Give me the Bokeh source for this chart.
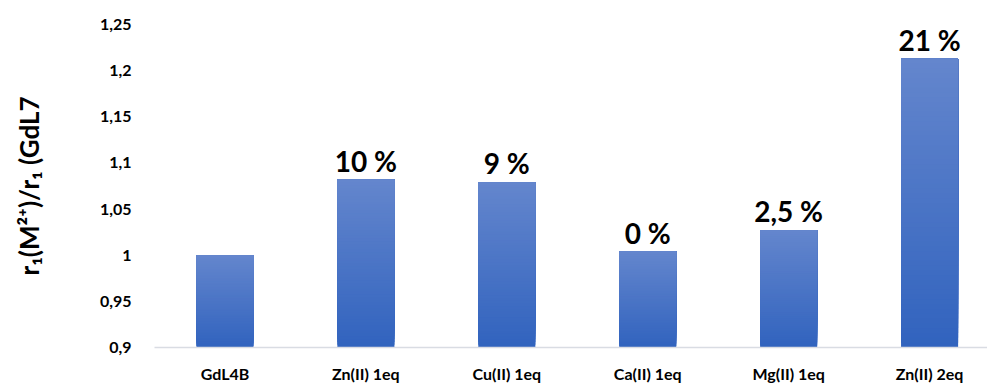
from bokeh.plotting import figure
from bokeh.models import Range1d, FixedTicker, ColumnDataSource
from bokeh.core.properties import value
from bokeh.embed import file_html
from bokeh.resources import INLINE

categories = ["GdL4B", "Zn(II) 1eq", "Cu(II) 1eq", "Ca(II) 1eq", "Mg(II) 1eq", "Zn(II) 2eq"]
ratios = [1.000, 1.082, 1.079, 1.004, 1.027, 1.213]
pct_labels = ["", "10 %", "9 %", "0 %", "2,5 %", "21 %"]
y_ticks = [0.9, 0.95, 1.0, 1.05, 1.1, 1.15, 1.2, 1.25]
y_tick_labels = ["0,9", "0,95", "1", "1,05", "1,1", "1,15", "1,2", "1,25"]
y_title = "r\u2081(M\u00b2\u207a)/r\u2081 (GdL7"

Y0, Y1 = 0.9, 1.25
TOP = (0x64, 0x86, 0xCD)
BOT = (0x31, 0x63, 0xBE)
BAR_W = 0.405
N_SLICES = 60

p = figure(frame_width=833, frame_height=323, output_backend="svg", toolbar_location=None,
           x_range=Range1d(-0.5, 5.411), y_range=Range1d(Y0, Y1),
           min_border_left=154, min_border_right=0, min_border_top=24, min_border_bottom=38)
p.outline_line_color = None
p.xgrid.grid_line_color = None
p.ygrid.grid_line_color = None

# gradient bars built from the data values (each slice runs to the bar top, drawn bottom-up)
lefts, rights, bottoms, tops, colors = [], [], [], [], []
for i, v in enumerate(ratios):
    h = v - Y0
    for k in range(N_SLICES):
        f0 = k / N_SLICES
        fm = (k + 0.5) / N_SLICES
        c = tuple(int(round(BOT[j] + (TOP[j] - BOT[j]) * fm)) for j in range(3))
        lefts.append(i - BAR_W / 2)
        rights.append(i + BAR_W / 2)
        bottoms.append(Y0 + h * f0)
        tops.append(v)
        colors.append("#%02x%02x%02x" % c)
p.quad(left=lefts, right=rights, bottom=bottoms, top=tops, fill_color=colors, line_color=None)

src = ColumnDataSource(dict(x=list(range(len(categories))), y=ratios, t=pct_labels))
p.text(x="x", y="y", text="t", source=src, text_align="center", text_baseline="bottom",
       y_offset=-2, text_font=value("Lato"), text_font_style="bold", text_font_size="28px",
       text_color="#000000")

# x axis
p.xaxis.ticker = FixedTicker(ticks=list(range(len(categories))))
p.xaxis.major_label_overrides = {i: c for i, c in enumerate(categories)}
p.xaxis.axis_line_color = "#D9DCE3"
p.xaxis.axis_line_width = 1.5
p.xaxis.major_tick_line_color = None
p.xaxis.minor_tick_line_color = None
p.xaxis.major_tick_out = 0
p.xaxis.major_tick_in = 0
p.xaxis.minor_tick_out = 0
p.xaxis.major_label_standoff = 16
p.xaxis.major_label_text_font = "Lato"
p.xaxis.major_label_text_font_style = "bold"
p.xaxis.major_label_text_font_size = "16px"
p.xaxis.major_label_text_color = "#000000"

# y axis
p.yaxis.ticker = FixedTicker(ticks=y_ticks)
p.yaxis.major_label_overrides = {t: l for t, l in zip(y_ticks, y_tick_labels)}
p.yaxis.axis_line_color = None
p.yaxis.major_tick_line_color = None
p.yaxis.minor_tick_line_color = None
p.yaxis.major_tick_out = 0
p.yaxis.major_tick_in = 0
p.yaxis.minor_tick_out = 0
p.yaxis.major_label_standoff = 23
p.yaxis.major_label_text_font = "Lato"
p.yaxis.major_label_text_font_style = "bold"
p.yaxis.major_label_text_font_size = "16px"
p.yaxis.major_label_text_color = "#000000"
p.yaxis.axis_label = y_title
p.yaxis.axis_label_standoff = 52
p.yaxis.axis_label_text_font = "Lato"
p.yaxis.axis_label_text_font_style = "bold"
p.yaxis.axis_label_text_font_size = "26px"
p.yaxis.axis_label_text_color = "#000000"

open("out.html", "w").write(file_html(p, INLINE))
